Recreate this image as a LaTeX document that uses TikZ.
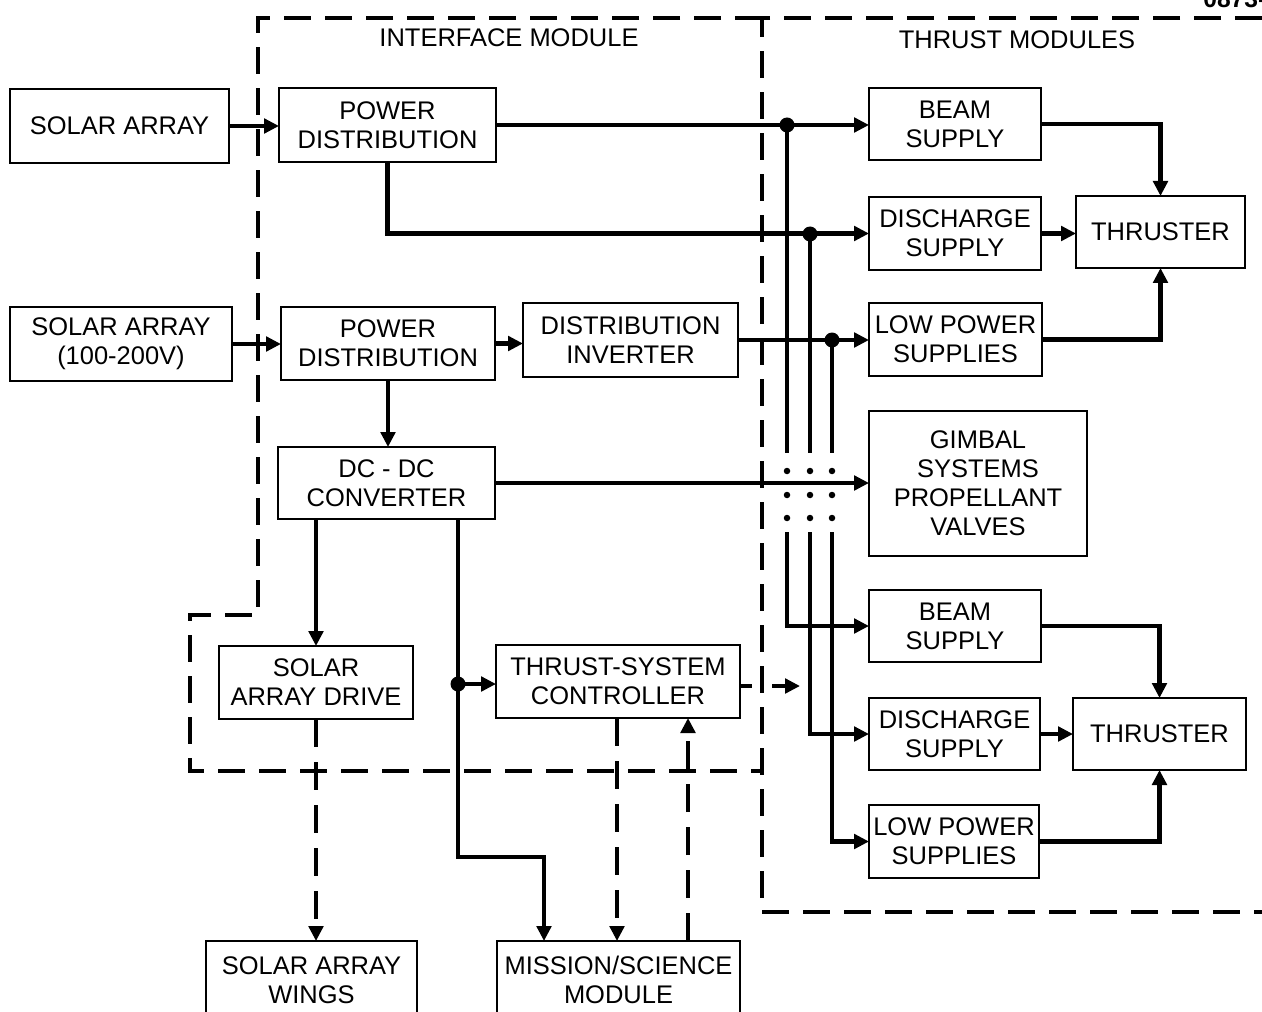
\documentclass[tikz,border=0pt]{standalone}
\usepackage{fontspec}
\setmainfont{Liberation Sans}
\usetikzlibrary{arrows.meta}
\newcommand\bx[6]{\node[boxst, minimum width={(#4-#2)*0.2mm}, minimum height={(#5-#3)*0.2mm}] (#1) at ({(#2+#4)/2},{(#3+#5)/2}) {#6};}
\begin{document}
\begin{tikzpicture}[x=0.2mm,y=-0.2mm,
  boxst/.style={draw, line width=1.2pt, align=center, inner sep=0pt, outer sep=0pt, fill=white, font=\fontsize{14.5}{16.5}\selectfont},
  titlest/.style={inner sep=0pt, font=\fontsize{14.5}{16.5}\selectfont},
  wire/.style={line width=2.5pt},
  conn/.style={wire, -{Triangle[length=3mm,width=2.9mm]}},
  dconn/.style={conn, dash pattern=on 5.6mm off 3mm},
  frame/.style={line width=2pt, dash pattern=on 5.4mm off 2.8mm}]
\clip (0,0) rectangle (1262,1012);
\fill[white] (0,0) rectangle (1262,1012);

% module frames
\draw[frame] (762,18) -- (258,18) -- (258,615) -- (190,615) -- (190,771) -- (762,771);
\draw[frame] (1262,18) -- (762,18) -- (762,912) -- (1262,912);
\node[titlest] (tim) at (509,38) {INTERFACE MODULE};
\node[titlest] (ttm) at (1017,40) {THRUST MODULES};
\node[anchor=base west, inner sep=0pt, font=\bfseries\fontsize{14}{16}\selectfont] (fig) at (1203,8) {0873-2};

% boxes
\bx{sa1}{10}{89}{229}{163}{SOLAR ARRAY}
\bx{pd1}{279}{88}{496}{162}{POWER\\DISTRIBUTION}
\bx{sa2}{10}{307}{232}{381}{SOLAR ARRAY\\(100-200V)}
\bx{pd2}{281}{307}{495}{380}{POWER\\DISTRIBUTION}
\bx{inv}{523}{303}{738}{377}{DISTRIBUTION\\INVERTER}
\bx{dcdc}{278}{447}{495}{519}{DC - DC\\CONVERTER}
\bx{sad}{219}{646}{413}{719}{SOLAR\\ARRAY DRIVE}
\bx{tsc}{496}{645}{740}{718}{THRUST-SYSTEM\\CONTROLLER}
\bx{saw}{206}{941}{417}{1019}{SOLAR ARRAY\\WINGS}
\bx{msm}{497}{941}{740}{1019}{MISSION/SCIENCE\\MODULE}
\bx{bs1}{869}{88}{1041}{160}{BEAM\\SUPPLY}
\bx{ds1}{869}{197}{1041}{270}{DISCHARGE\\SUPPLY}
\bx{lp1}{869}{303}{1042}{376}{LOW POWER\\SUPPLIES}
\bx{th1}{1076}{196}{1245}{268}{THRUSTER}
\bx{gim}{869}{411}{1087}{556}{GIMBAL\\SYSTEMS\\PROPELLANT\\VALVES}
\bx{bs2}{869}{590}{1041}{662}{BEAM\\SUPPLY}
\bx{ds2}{869}{698}{1040}{770}{DISCHARGE\\SUPPLY}
\bx{lp2}{869}{805}{1039}{878}{LOW POWER\\SUPPLIES}
\bx{th2}{1073}{698}{1246}{770}{THRUSTER}

% coordinates
\coordinate (j1) at (787,125);
\coordinate (j2) at (810,234);
\coordinate (j3) at (832,340);
\coordinate (j1e) at (787,453);
\coordinate (j2e) at (810,453);
\coordinate (j3e) at (832,453);
\coordinate (j1s) at (787,532);
\coordinate (j2s) at (810,532);
\coordinate (j3s) at (832,532);
\coordinate (k1) at (458,519);
\coordinate (k2) at (458,857);
\coordinate (k3) at (544,857);
\coordinate (jd) at (458,684);
\coordinate (tsout) at (800,686);
\coordinate (m1) at (617,718);
\coordinate (m2) at (688,718);

% solid connectors
\draw[conn] (sa1.east) -- (sa1.east -| pd1.west);
\draw[conn] (pd1.east) -- (pd1.east -| bs1.west);
\draw[conn] (pd1.south) |- (ds1.west);
\draw[conn] (sa2.east) -- (sa2.east -| pd2.west);
\draw[conn] (pd2.east) -- (pd2.east -| inv.west);
\draw[conn] (inv.east) -- (inv.east -| lp1.west);
\draw[conn] (pd2.south) -- (pd2.south |- dcdc.north);
\draw[conn] (dcdc.east) -- (dcdc.east -| gim.west);
\draw[conn] (dcdc.south -| sad.north) -- (sad.north);
\draw[conn] (k1) -- (k2) -- (k3) -- (k3 |- msm.north);
\draw[conn] (jd) -- (jd -| tsc.west);
\fill (jd) circle (1.5mm);

% bus
\draw[wire] (j1) -- (j1e);
\draw[wire] (j2) -- (j2e);
\draw[wire] (j3) -- (j3e);
\draw[conn] (j1s) |- (bs2.west);
\draw[conn] (j2s) |- (ds2.west);
\draw[conn] (j3s) |- (lp2.west);
\fill (j1) circle (1.5mm);
\fill (j2) circle (1.5mm);
\fill (j3) circle (1.5mm);
\foreach \x in {787,810,832} \foreach \y in {471,495,518} \fill (\x,\y) circle (0.65mm);

% thrusters
\draw[conn] (bs1.east) -| (th1.north);
\draw[conn] (ds1.east) -- (ds1.east -| th1.west);
\draw[conn] (lp1.east) -| (th1.south);
\draw[conn] (bs2.east) -| (th2.north);
\draw[conn] (ds2.east) -- (ds2.east -| th2.west);
\draw[conn] (lp2.east) -| (th2.south);

% dashed signal connectors
\draw[conn, dash pattern=on 2.4mm off 4mm on 10mm] (tsc.east |- tsout) -- (tsout);
\draw[dconn] (sad.south) -- (sad.south |- saw.north);
\draw[dconn] (m1) -- (m1 |- msm.north);
\draw[dconn] (m2 |- msm.north) -- (m2);
\end{tikzpicture}
\end{document}
